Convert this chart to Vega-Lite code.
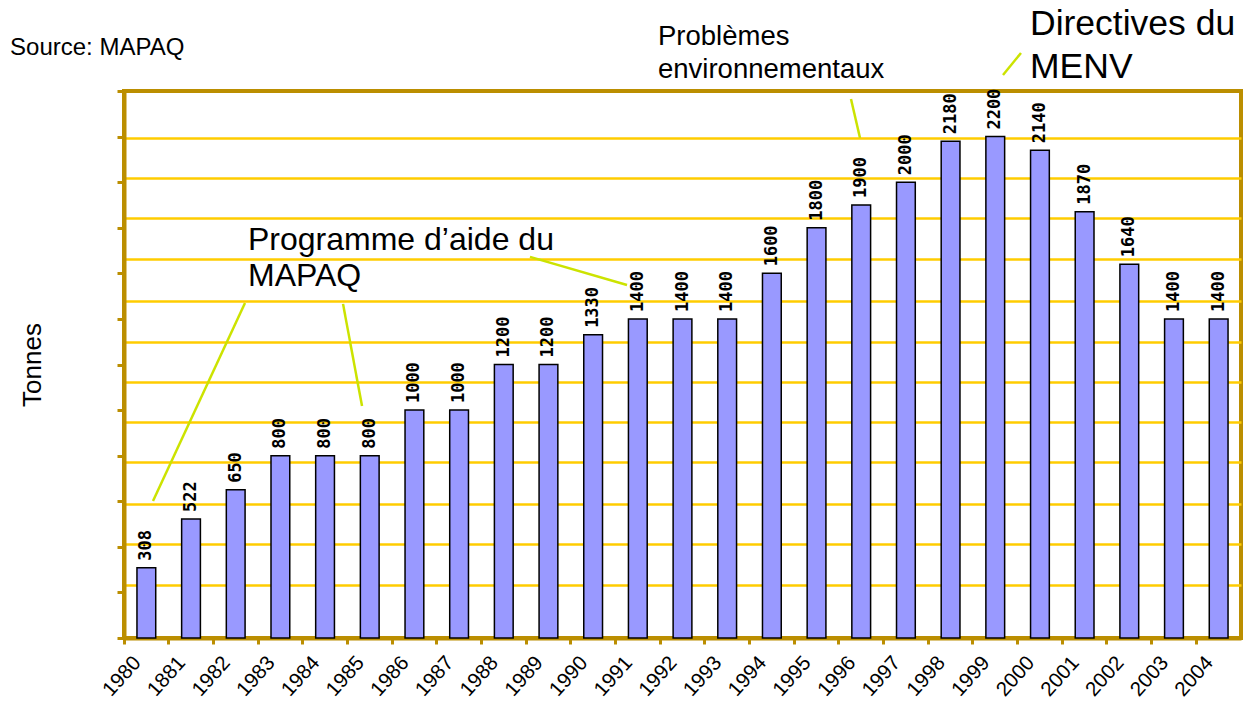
{
  "$schema": "https://vega.github.io/schema/vega-lite/v6.json",
  "width": 1117,
  "height": 547,
  "autosize": {"type": "none"},
  "padding": {"left": 124, "top": 91, "right": 9, "bottom": 71},
  "background": "white",
  "config": {
    "view": {"stroke": "#BB8E00", "strokeWidth": 4},
    "font": "Liberation Sans"
  },
  "datasets": {
    "tonnage": [
      {"annee": "1980", "tonnes": 308},
      {"annee": "1881", "tonnes": 522},
      {"annee": "1982", "tonnes": 650},
      {"annee": "1983", "tonnes": 800},
      {"annee": "1984", "tonnes": 800},
      {"annee": "1985", "tonnes": 800},
      {"annee": "1986", "tonnes": 1000},
      {"annee": "1987", "tonnes": 1000},
      {"annee": "1988", "tonnes": 1200},
      {"annee": "1989", "tonnes": 1200},
      {"annee": "1990", "tonnes": 1330},
      {"annee": "1991", "tonnes": 1400},
      {"annee": "1992", "tonnes": 1400},
      {"annee": "1993", "tonnes": 1400},
      {"annee": "1994", "tonnes": 1600},
      {"annee": "1995", "tonnes": 1800},
      {"annee": "1996", "tonnes": 1900},
      {"annee": "1997", "tonnes": 2000},
      {"annee": "1998", "tonnes": 2180},
      {"annee": "1999", "tonnes": 2200},
      {"annee": "2000", "tonnes": 2140},
      {"annee": "2001", "tonnes": 1870},
      {"annee": "2002", "tonnes": 1640},
      {"annee": "2003", "tonnes": 1400},
      {"annee": "2004", "tonnes": 1400}
    ],
    "leaders": [
      {"u1": 2.708, "v1": 1470, "u2": 0.649, "v2": 601},
      {"u1": 4.902, "v1": 1466, "u2": 5.327, "v2": 1018},
      {"u1": 9.087, "v1": 1672, "u2": 11.258, "v2": 1549},
      {"u1": 16.271, "v1": 2365, "u2": 16.473, "v2": 2194},
      {"u1": 20.076, "v1": 2567, "u2": 19.673, "v2": 2470}
    ],
    "note_mapaq": [
      {"u": 2.775, "v": 1702, "txt": "Programme d’aide du"},
      {"u": 2.775, "v": 1544, "txt": "MAPAQ"}
    ],
    "note_env": [
      {"u": 11.952, "v": 2602, "txt": "Problèmes"},
      {"u": 11.952, "v": 2457, "txt": "environnementaux"}
    ],
    "note_menv": [
      {"u": 20.278, "v": 2646, "txt": "Directives du"},
      {"u": 20.278, "v": 2457, "txt": "MENV"}
    ],
    "source": [
      {"u": -2.551, "v": 2558, "txt": "Source: MAPAQ"}
    ]
  },
  "resolve": {"scale": {"x": "independent"}, "axis": {"x": "independent", "y": "independent"}},
  "layer": [
    {
      "data": {"name": "tonnage"},
      "mark": {"type": "bar", "fill": "#9999FF", "stroke": "black", "strokeWidth": 1.5, "width": {"band": 0.42}},
      "encoding": {
        "x": {
          "field": "annee", "type": "nominal", "sort": null,
          "scale": {"paddingInner": 0, "paddingOuter": 0},
          "axis": {
            "orient": "bottom", "title": null, "bandPosition": 0,
            "domainColor": "#BB8E00", "domainWidth": 4,
            "tickColor": "#BB8E00", "tickWidth": 3, "tickSize": 6,
            "labelAngle": -48, "labelAlign": "right", "labelBaseline": "middle",
            "labelFont": "Liberation Sans", "labelFontSize": 20.5, "labelColor": "black",
            "labelPadding": 15, "labelOffset": -9, "labelOverlap": false, "labelFlush": false
          }
        },
        "y": {
          "field": "tonnes", "type": "quantitative",
          "scale": {"domain": [0, 2400], "nice": false},
          "axis": {
            "orient": "left", "values": [0, 200, 400, 600, 800, 1000, 1200, 1400, 1600, 1800, 2000, 2200, 2400],
            "grid": false, "labels": false,
            "domainColor": "#BB8E00", "domainWidth": 4,
            "tickColor": "#BB8E00", "tickWidth": 3, "tickSize": 7,
            "title": "Tonnes", "titleFont": "Liberation Sans", "titleFontSize": 26,
            "titleFontWeight": "normal", "titleColor": "black", "titlePadding": 70
          }
        }
      }
    },
    {
      "data": {"name": "tonnage"},
      "mark": {"type": "text", "angle": 270, "align": "left", "baseline": "middle", "dx": 7,
               "font": "DejaVu Sans Mono", "fontWeight": "bold", "fontSize": 17, "fill": "black"},
      "encoding": {
        "x": {"field": "annee", "type": "nominal", "sort": null,
              "scale": {"paddingInner": 0, "paddingOuter": 0}, "axis": null},
        "y": {
          "field": "tonnes", "type": "quantitative",
          "scale": {"domain": [0, 2400], "nice": false},
          "axis": {
            "orient": "right",
            "values": [233, 413, 588, 772, 948, 1123, 1299, 1479, 1663, 1843, 2018, 2194],
            "grid": true, "gridColor": "#FFCC00", "gridWidth": 2.5,
            "domain": false, "ticks": false, "labels": false, "title": null
          }
        },
        "text": {"field": "tonnes", "type": "quantitative"}
      }
    },
    {
      "data": {"name": "leaders"},
      "mark": {"type": "rule", "stroke": "#CCE300", "strokeWidth": 2.5},
      "encoding": {
        "x": {"field": "u1", "type": "quantitative", "scale": {"domain": [0, 25], "nice": false, "zero": false}, "axis": null},
        "x2": {"field": "u2"},
        "y": {"field": "v1", "type": "quantitative", "scale": {"domain": [0, 2400], "nice": false}, "axis": null},
        "y2": {"field": "v2"}
      }
    },
    {
      "data": {"name": "note_mapaq"},
      "mark": {"type": "text", "align": "left", "baseline": "alphabetic", "font": "Liberation Sans", "fontSize": 32, "fill": "black"},
      "encoding": {
        "x": {"field": "u", "type": "quantitative", "scale": {"domain": [0, 25], "nice": false, "zero": false}, "axis": null},
        "y": {"field": "v", "type": "quantitative", "scale": {"domain": [0, 2400], "nice": false}, "axis": null},
        "text": {"field": "txt"}
      }
    },
    {
      "data": {"name": "note_env"},
      "mark": {"type": "text", "align": "left", "baseline": "alphabetic", "font": "Liberation Sans", "fontSize": 27.5, "fill": "black"},
      "encoding": {
        "x": {"field": "u", "type": "quantitative", "scale": {"domain": [0, 25], "nice": false, "zero": false}, "axis": null},
        "y": {"field": "v", "type": "quantitative", "scale": {"domain": [0, 2400], "nice": false}, "axis": null},
        "text": {"field": "txt"}
      }
    },
    {
      "data": {"name": "note_menv"},
      "mark": {"type": "text", "align": "left", "baseline": "alphabetic", "font": "Liberation Sans", "fontSize": 35.5, "fill": "black"},
      "encoding": {
        "x": {"field": "u", "type": "quantitative", "scale": {"domain": [0, 25], "nice": false, "zero": false}, "axis": null},
        "y": {"field": "v", "type": "quantitative", "scale": {"domain": [0, 2400], "nice": false}, "axis": null},
        "text": {"field": "txt"}
      }
    },
    {
      "data": {"name": "source"},
      "mark": {"type": "text", "align": "left", "baseline": "alphabetic", "font": "Liberation Sans", "fontSize": 24, "fill": "black"},
      "encoding": {
        "x": {"field": "u", "type": "quantitative", "scale": {"domain": [0, 25], "nice": false, "zero": false}, "axis": null},
        "y": {"field": "v", "type": "quantitative", "scale": {"domain": [0, 2400], "nice": false}, "axis": null},
        "text": {"field": "txt"}
      }
    }
  ]
}
